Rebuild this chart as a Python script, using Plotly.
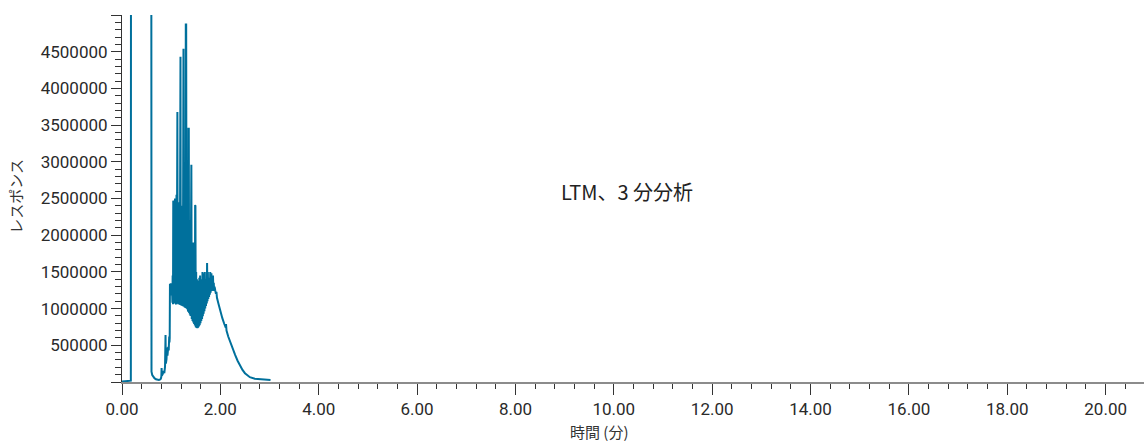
import plotly.graph_objects as go

# Retention time (min) and detector response of the LTM run
time_min = [
    0.00, 0.08, 0.15, 0.18,
    0.19, 0.40, 0.585,
    0.592, 0.600, 0.615, 0.635, 0.660, 0.690, 0.720, 0.750, 0.770,
    0.790, 0.800, 0.805, 0.812, 0.830, 0.850, 0.860, 0.875,
    0.885, 0.892, 0.905, 0.915, 0.925, 0.940, 0.950, 0.960, 0.965,
    0.970, 0.975, 0.985, 0.995, 1.005, 1.015, 1.025, 1.030, 1.037,
    1.042, 1.048, 1.053, 1.058, 1.063, 1.068, 1.073, 1.078, 1.083, 1.088,
    1.093, 1.098, 1.103, 1.108, 1.113,
    1.118, 1.126, 1.133, 1.140, 1.147, 1.154, 1.161, 1.168, 1.175,
    1.181, 1.189, 1.196, 1.203, 1.210, 1.217, 1.224, 1.231, 1.237,
    1.242, 1.250, 1.257, 1.264, 1.271, 1.278, 1.285, 1.291,
    1.297, 1.305, 1.312, 1.319, 1.326, 1.333, 1.340, 1.346,
    1.350, 1.358, 1.365, 1.372, 1.379, 1.386, 1.393,
    1.400, 1.410, 1.418, 1.426, 1.434, 1.442, 1.450, 1.458, 1.466, 1.474, 1.482,
    1.487, 1.493, 1.500, 1.508, 1.516, 1.524, 1.532, 1.540, 1.548, 1.556, 1.564,
    1.572, 1.580, 1.588, 1.596, 1.604, 1.612, 1.620, 1.628, 1.636, 1.644,
    1.652, 1.660, 1.668, 1.676, 1.684, 1.692, 1.700, 1.708, 1.716, 1.724,
    1.730, 1.738, 1.746, 1.754, 1.762, 1.770, 1.778, 1.786, 1.794, 1.802,
    1.810, 1.818, 1.826, 1.834, 1.842, 1.850, 1.858, 1.866, 1.874, 1.882, 1.895,
    1.910, 1.920, 1.930, 1.960, 2.000, 2.040, 2.080, 2.110, 2.115, 2.125,
    2.160, 2.200, 2.250, 2.300, 2.350, 2.400, 2.450, 2.500, 2.550, 2.600,
    2.700, 2.800, 2.900, 3.000, 3.020,
]

response = [
    6000, 9000, 15000, 18000,
    22000000, 30000000, 22000000,
    150000, 140000, 95000, 70000, 52000, 38000, 30000, 27000, 32000,
    45000, 75000, 190000, 90000, 110000, 150000, 120000, 210000,
    640000, 250000, 310000, 470000, 360000, 480000, 430000, 620000, 540000,
    600000, 1340000, 1240000, 1345000, 1180000, 1330000, 1080000, 1450000, 1060000,
    2470000, 2460000, 1080000, 2200000, 1100000, 2350000, 1070000, 2500000, 1090000, 2300000,
    1070000, 2400000, 1060000, 2550000, 1080000,
    3680000, 3680000, 1070000, 2450000, 1060000, 2300000, 1070000, 2500000, 1060000,
    4430000, 4430000, 1050000, 2400000, 1040000, 2350000, 1050000, 2450000, 1040000,
    4540000, 4540000, 1030000, 2400000, 1020000, 2300000, 1030000, 1010000,
    4870000, 4870000, 1000000, 2350000, 990000, 2250000, 980000, 960000,
    3450000, 3450000, 940000, 2200000, 920000, 2050000, 900000,
    2960000, 2960000, 860000, 1900000, 830000, 1750000, 810000, 1900000, 790000, 1700000, 770000,
    2410000, 2400000, 745000, 1500000, 735000, 1400000, 732000, 1340000, 740000, 1380000, 755000,
    1420000, 775000, 1450000, 800000, 1400000, 830000, 1350000, 860000, 1500000, 895000,
    1480000, 930000, 1420000, 965000, 1500000, 1000000, 1400000, 1035000, 1380000, 1070000,
    1620000, 1100000, 1500000, 1130000, 1420000, 1160000, 1400000, 1190000, 1500000, 1215000,
    1420000, 1480000, 1240000, 1400000, 1250000, 1450000, 1245000, 1350000, 1240000, 1300000, 1250000,
    1200000, 1230000, 1150000, 1070000, 960000, 870000, 790000, 740000, 790000, 700000,
    620000, 540000, 450000, 370000, 290000, 225000, 165000, 120000, 88000, 66000,
    45000, 36000, 31000, 27000, 26000,
]

# Axis ticks
x_major = [0, 2, 4, 6, 8, 10, 12, 14, 16, 18, 20]
y_major = [0, 500000, 1000000, 1500000, 2000000, 2500000,
           3000000, 3500000, 4000000, 4500000, 5000000]
y_labels = ["", "500000", "1000000", "1500000", "2000000", "2500000",
            "3000000", "3500000", "4000000", "4500000", ""]

line_color = "#00709c"
tick_font = dict(family="Roboto, Arial, sans-serif", size=17, color="#2a2a2a")
jp_font = "Noto Sans CJK JP, sans-serif"

fig = go.Figure()
fig.add_trace(go.Scatter(
    x=time_min, y=response, mode="lines",
    line=dict(color=line_color, width=2),
    hoverinfo="skip", showlegend=False,
))

fig.update_layout(
    width=1144, height=443,
    margin=dict(l=122, r=0, t=15, b=61),
    paper_bgcolor="white", plot_bgcolor="white",
    xaxis=dict(
        range=[0, 20.78], tickmode="array", tickvals=x_major,
        ticktext=[f"{v:.2f}" for v in x_major],
        ticks="outside", ticklen=11, tickwidth=1, tickcolor="#333333",
        tickfont=tick_font,
        showline=True, linecolor="#8c8c8c", linewidth=1.5,
        showgrid=False, zeroline=False,
        minor=dict(ticks="outside", tick0=0, dtick=0.4, ticklen=5,
                   tickwidth=1, tickcolor="#333333", showgrid=False),
    ),
    yaxis=dict(
        range=[0, 5000000], tickmode="array", tickvals=y_major,
        ticktext=y_labels,
        ticks="outside", ticklen=10, tickwidth=1, tickcolor="#333333",
        tickfont=tick_font,
        showline=True, linecolor="#333333", linewidth=1,
        showgrid=False, zeroline=False,
        minor=dict(ticks="outside", tick0=0, dtick=100000, ticklen=6,
                   tickwidth=1, tickcolor="#333333", showgrid=False),
    ),
    annotations=[
        dict(text="LTM、3 分分析", xref="paper", yref="paper",
             x=0.4946, y=0.518, xanchor="center", yanchor="middle",
             showarrow=False, font=dict(family=jp_font, size=20, color="#222222")),
        dict(text="レスポンス", xref="paper", yref="paper",
             x=-0.1037, y=0.505, xanchor="center", yanchor="middle",
             textangle=-90, showarrow=False,
             font=dict(family=jp_font, size=15, color="#333333")),
        dict(text="時間 (分)", xref="paper", yref="paper",
             x=0.4677, y=-0.134, xanchor="center", yanchor="middle",
             showarrow=False, font=dict(family=jp_font, size=15, color="#333333")),
    ],
)

fig.write_html("out.html")
